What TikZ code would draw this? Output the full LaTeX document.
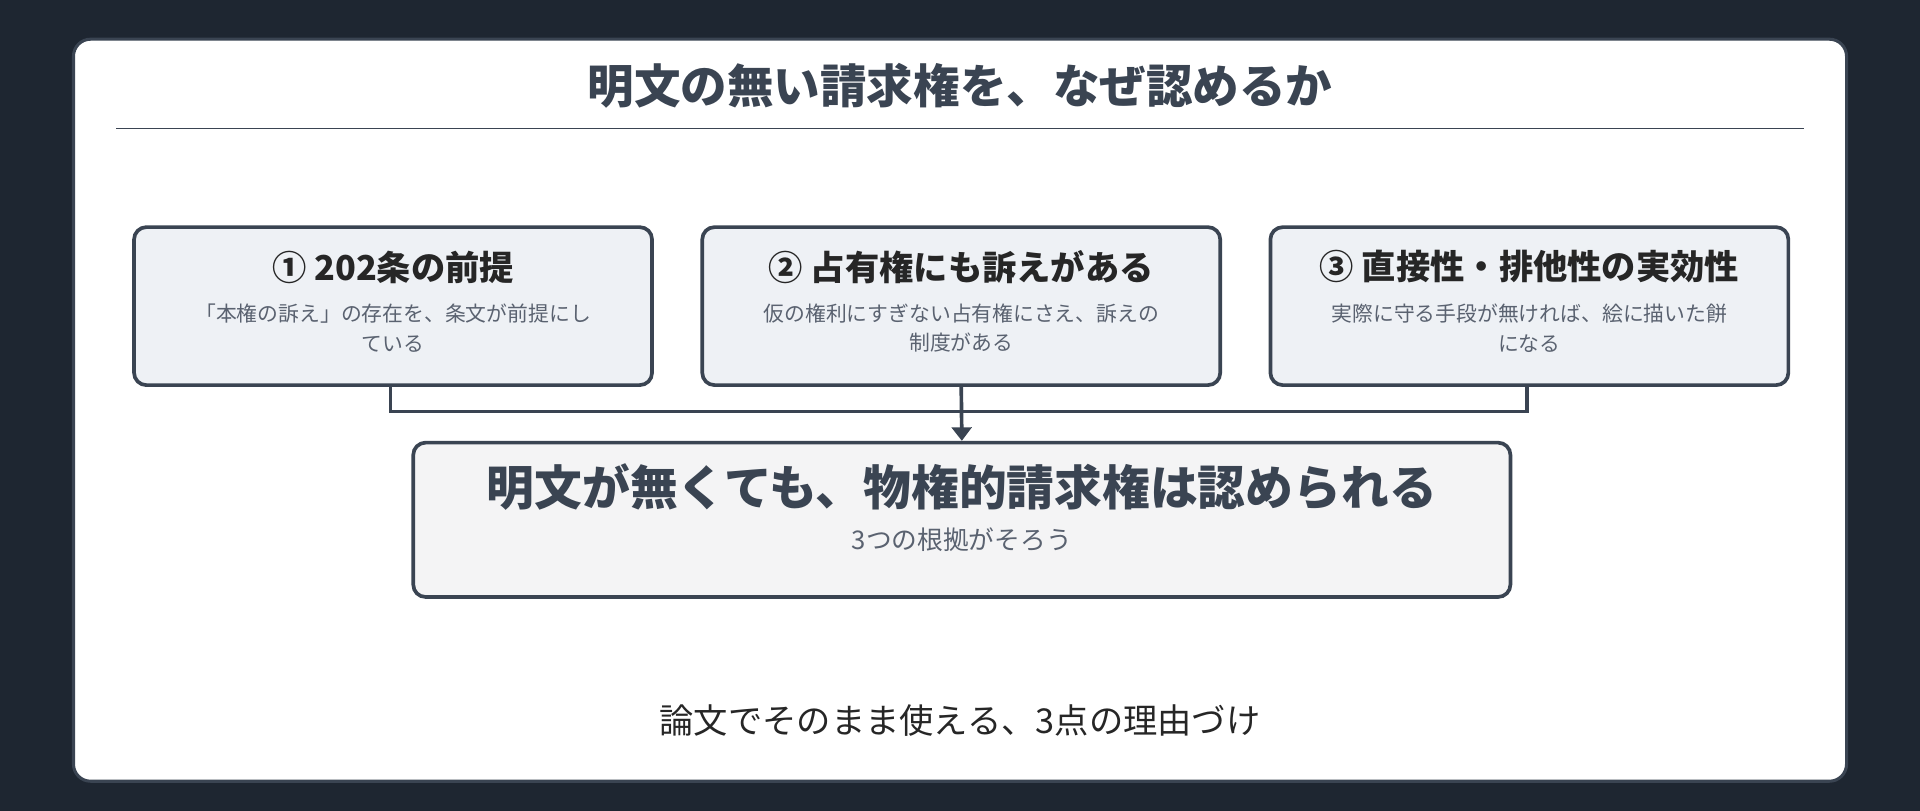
\documentclass[tikz,border=0pt]{standalone}
\usepackage{fontspec}
\setmainfont{Noto Sans CJK JP}
\usetikzlibrary{arrows.meta}
\definecolor{bg}{HTML}{1E2631}
\definecolor{ink}{HTML}{3A4452}
\definecolor{sub}{HTML}{5A6270}
\definecolor{boxf}{HTML}{EEF1F5}
\definecolor{boxg}{HTML}{F4F4F5}
\begin{document}
\begin{tikzpicture}[x=1pt,y=-1pt,
  card/.style={draw=ink,line width=3pt,rounded corners=10pt},
  reason/.style={card,fill=boxf,minimum width=423pt,minimum height=129pt,anchor=north west},
  hd/.style={font=\bfseries\fontsize{28}{32}\selectfont,text=black!85},
  sb/.style={font=\fontsize{17}{24}\selectfont,text=sub,align=center},
  conn/.style={draw=ink,line width=3pt}]
\useasboundingbox (0,0) rectangle (1568,662);
\fill[bg] (0,0) rectangle (1568,662);
\draw[card,fill=white,line width=2.5pt,rounded corners=14pt] (60,32) rectangle (1508,638);
\node (title) [font=\bfseries\fontsize{38}{44}\selectfont,text=ink] at (784,70) {明文の無い請求権を、なぜ認めるか};
\draw[ink,line width=1.5pt] (95,105) -- (1473,105);
\node (b1) [reason] at (108,184) {};
\node (b2) [reason] at (572,184) {};
\node (b3) [reason] at (1036,184) {};
\node [hd] at ([yshift=-34pt]b1.north) {① 202条の前提};
\node [sb] at ([yshift=-84pt]b1.north) {「本権の訴え」の存在を、条文が前提にし\\ている};
\node [hd] at ([yshift=-34pt]b2.north) {② 占有権にも訴えがある};
\node [sb] at ([yshift=-84pt]b2.north) {仮の権利にすぎない占有権にさえ、訴えの\\制度がある};
\node [hd] at ([yshift=-34pt]b3.north) {③ 直接性・排他性の実効性};
\node [sb] at ([yshift=-84pt]b3.north) {実際に守る手段が無ければ、絵に描いた餅\\になる};
\node (c) [card,fill=boxg,minimum width=896pt,minimum height=126pt,anchor=north west] at (336,360) {};
\node [font=\bfseries\fontsize{39}{44}\selectfont,text=ink] at ([yshift=-38pt]c.north) {明文が無くても、物権的請求権は認められる};
\node [font=\fontsize{21}{26}\selectfont,text=sub] at ([yshift=-81pt]c.north) {3つの根拠がそろう};
\coordinate (j1) at (319,336);
\coordinate (j3) at (1247,336);
\draw[conn] (b1.south -| j1) -- (j1) -- (j3) -- (b3.south -| j3);
\draw[conn,-{Triangle[length=11pt,width=16pt]}] (b2.south) -- (c.north);
\node (foot) [font=\fontsize{28}{32}\selectfont,text=black!85] at (784,588) {論文でそのまま使える、3点の理由づけ};
\end{tikzpicture}
\end{document}
